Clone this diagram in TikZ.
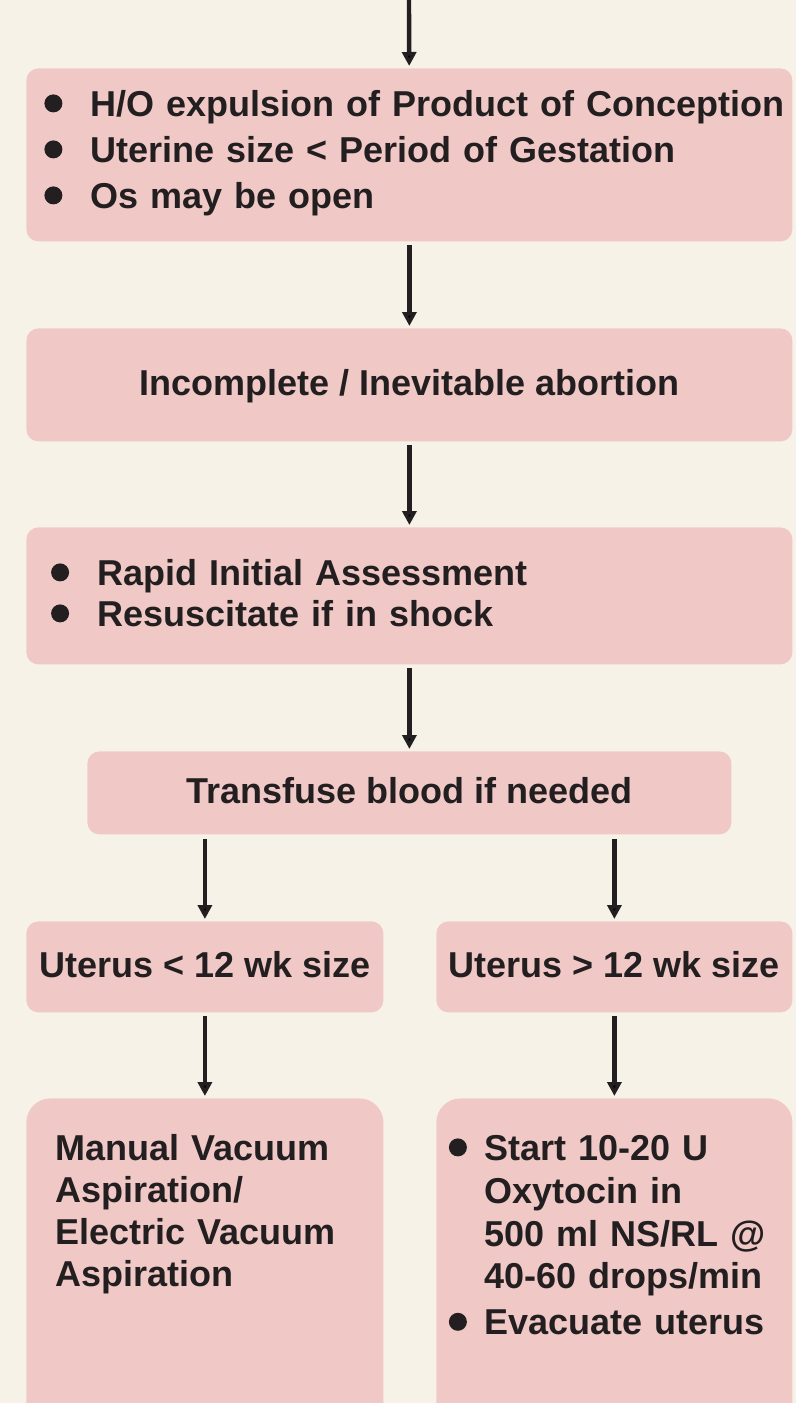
\documentclass[tikz,border=0pt]{standalone}
\usepackage{fontspec}
\setmainfont{Liberation Sans}
\usetikzlibrary{arrows.meta}

\definecolor{paper}{RGB}{247,242,231}
\definecolor{boxpink}{RGB}{240,201,199}
\definecolor{ink}{RGB}{35,31,32}

\newcommand\dotmark{\tikz[x=1pt,y=1pt,baseline=-6.5pt]\fill (0,0) circle (4.5pt);}

\begin{document}
\begin{tikzpicture}[x=0.5pt, y=-0.5pt,
    flowbox/.style={rectangle, rounded corners=6pt, fill=boxpink, text=ink, anchor=north west,
                    font=\bfseries\fontsize{18}{23}\selectfont,
                    text height=13pt, text depth=2.5pt},
    listbox/.style={flowbox, align=left},
    tallbox/.style={flowbox, rounded corners=12pt, align=left, inner ysep=18pt, text depth=135pt},
    flowarrow/.style={draw=ink, line width=2.2pt, -{Triangle[length=7pt,width=7pt]},
                      shorten <=1.5pt, shorten >=1pt},
  ]
  \fill[paper] (0,0) rectangle (796,1403);
  \useasboundingbox (0,0) rectangle (796,1403);
  \clip (0,0) rectangle (796,1403);

  \coordinate (entry) at (409,-4);
  \node[listbox, minimum width=383pt, minimum height=86.5pt, inner xsep=9pt, text width=365pt,
        text depth=51.5pt] (signs) at (26,68)
    {\begin{tabular}[t]{@{}p{23pt}@{}l@{}}
       \dotmark & H/O expulsion of Product of Conception\\
       \dotmark & Uterine size < Period of Gestation\\
       \dotmark & Os may be open
     \end{tabular}};
  \node[flowbox, minimum width=383pt, minimum height=56.5pt] (verdict) at (26,328)
    {Incomplete / Inevitable abortion};
  \node[listbox, minimum width=383pt, minimum height=68.5pt, inner xsep=12.35pt, text width=358.3pt,
        text depth=23.5pt, font=\bfseries\fontsize{18}{20.5}\selectfont] (assess) at (26,527)
    {\begin{tabular}[t]{@{}p{23pt}@{}l@{}}
       \dotmark & Rapid Initial Assessment\\
       \dotmark & Resuscitate if in shock
     \end{tabular}};
  \node[flowbox, minimum width=322pt, minimum height=41.5pt] (transfuse) at (87,751)
    {Transfuse blood if needed};

  % the two branches
  \node[flowbox, minimum width=178.5pt, minimum height=45.5pt] (small) at (26,921)
    {Uterus < 12 wk size};
  \node[flowbox, minimum width=178pt, minimum height=45.5pt] (large) at (436,921)
    {Uterus > 12 wk size};
  \node[tallbox, inner xsep=14.5pt, text width=149.5pt,
        font=\bfseries\fontsize{18}{21}\selectfont] (mva) at (26,1098)
    {Manual Vacuum\\Aspiration/\\Electric Vacuum\\Aspiration};
  \node[tallbox, inner xsep=6.25pt, text width=165.5pt,
        font=\bfseries\fontsize{18}{21.4}\selectfont] (oxy) at (436,1098)
    {\begin{tabular}[t]{@{}p{17.75pt}@{}l@{}}
       \dotmark & Start 10-20 U\\
                & Oxytocin in\\
                & 500 ml NS/RL @\\
                & 40-60 drops/min\\[1.6pt]
       \dotmark & Evacuate uterus
     \end{tabular}};

  \draw[flowarrow] (entry) -- (signs);
  \draw[flowarrow] (signs) -- (verdict);
  \draw[flowarrow] (verdict) -- (assess);
  \draw[flowarrow] (assess) -- (transfuse);
  \draw[flowarrow, shorten <=2pt] (transfuse.south -| small.north) -- (small.north);
  \draw[flowarrow, shorten <=2pt] (transfuse.south -| large.north) -- (large.north);
  \draw[flowarrow] (small) -- (mva);
  \draw[flowarrow] (large) -- (oxy);
\end{tikzpicture}
\end{document}
